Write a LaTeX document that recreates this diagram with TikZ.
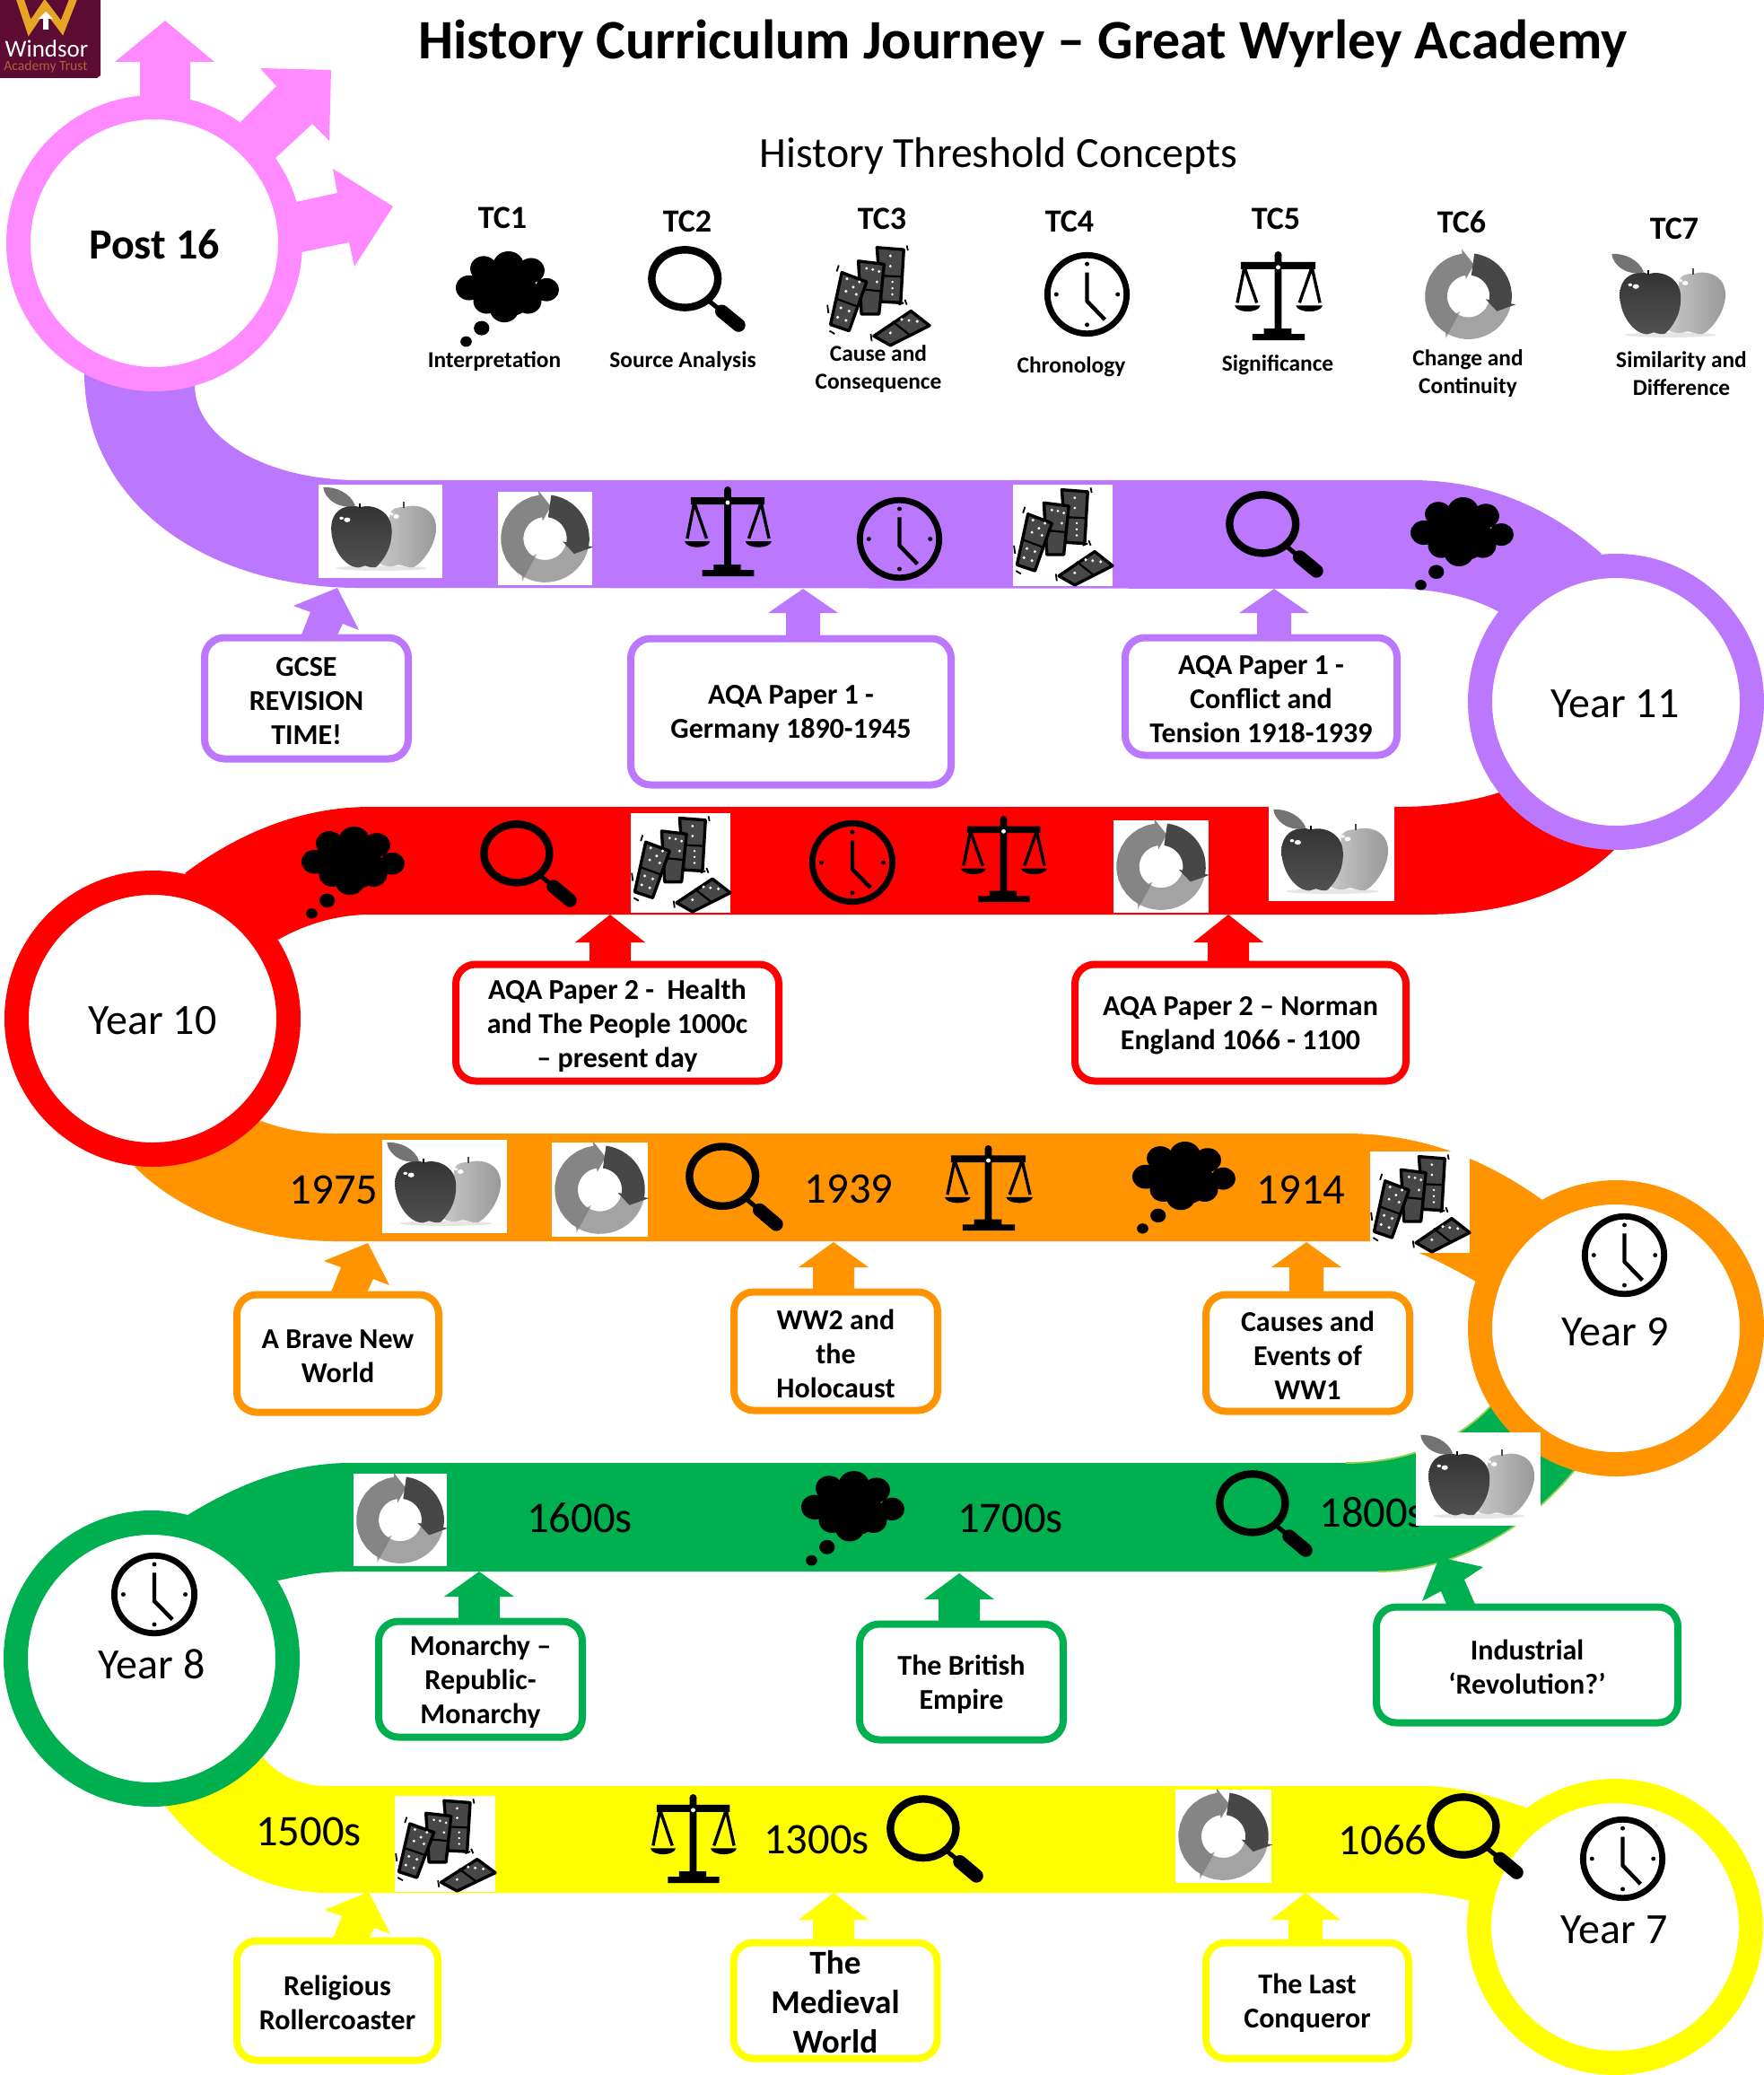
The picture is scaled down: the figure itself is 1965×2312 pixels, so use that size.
\documentclass[tikz,border=0pt]{standalone}
\usepackage{fontspec}
\setmainfont{Carlito}
\usetikzlibrary{calc}
\definecolor{cpink}{HTML}{FF8AFF}
\definecolor{cpurple}{HTML}{BB78FE}
\definecolor{cred}{HTML}{FF0000}
\definecolor{corange}{HTML}{FF9300}
\definecolor{cgreen}{HTML}{00B050}
\definecolor{cyellow}{HTML}{FFFF00}
\definecolor{cedge}{HTML}{92D050}
\definecolor{clogo}{HTML}{5C0C33}
\definecolor{cgold}{HTML}{E6A525}
\definecolor{ctrust}{HTML}{B0603A}
\tikzset{
  ring/.style={circle,draw=#1,fill=white,line width=13.5pt,minimum size=151.5pt,inner sep=0pt,outer sep=0pt},
  yearlabel/.style={font=\fontsize{24}{27}\selectfont,inner sep=0pt,yshift=-0.7pt},
  datelabel/.style={font=\fontsize{24.3}{27}\selectfont,inner sep=0pt,yshift=-0.5pt},
  tclabel/.style={font=\bfseries\fontsize{18}{21}\selectfont,inner sep=0pt,yshift=-0.5pt},
  tccaption/.style={font=\bfseries\fontsize{12.7}{15.4}\selectfont,align=center,inner sep=0pt,yshift=-0.7pt},
  topicbox/.style={draw=#1,fill=white,line width=4pt,rounded corners=11pt,inner sep=0pt,outer sep=0pt},
  topictext/.style={align=center,inner sep=0pt,font=\bfseries\fontsize{16}{19}\selectfont,yshift=-1.4pt}
}
% up arrow: colour, tip x, tip y, head half, head base y, shaft half, bottom y
\newcommand\uparr[7]{\fill[#1] (#2,#3) -- ({#2+#4},#5) -- ({#2+#6},#5) -- ({#2+#6},#7) -- ({#2-#6},#7) -- ({#2-#6},#5) -- ({#2-#4},#5) -- cycle;}
% tilted arrow
\newcommand\tiltarr[3]{\fill[#1] (#2,#3) -- ({#2+24},{#3+47}) -- ({#2+6},{#3+40}) -- ({#2-2},{#3+57}) -- ({#2-42},{#3+57}) -- ({#2-30},{#3+27}) -- ({#2-49},{#3+20}) -- cycle;}
% topic box: name, x1,y1,x2,y2, colour, text
\newcommand\tbox[7]{\node[topicbox=#6,minimum width={(#4-#2-6)*0.5pt},minimum height={(#5-#3-5)*0.5pt}] (#1) at ({(#2+#4)/2},{(#3+#5)/2}) {};
  \node[topictext] (#1t) at (#1) {#7};}
\newenvironment{iconscope}[4]{\begin{scope}[shift={({#1},{#2})},xscale={(#3-(#1))/100},yscale={(#4-(#2))/100}]}{\end{scope}}
\newcommand\cloudicon[4]{\begin{iconscope}{#1}{#2}{#3}{#4}
  \fill[black] (27,18) circle (13) (51,15) circle (15) (73,20) circle (13) (13,38) circle (13) (88,40) circle (12)
   (30,52) circle (13) (50,40) circle (28) (70,52) circle (13) (47,60) circle (14) (25,80) circle (7.5) (10,94) circle (5.5);
  \end{iconscope}}
\newcommand\magicon[4]{\begin{iconscope}{#1}{#2}{#3}{#4}
  \draw[black,line width=4.2pt] (37.5,38) circle (33.5);
  \draw[black,line width=2.5pt] (62,64) -- (74,75);
  \draw[black,line width=7.5pt,line cap=round] (75,76) -- (92,92);
  \end{iconscope}}
\newcommand\clockicon[4]{\begin{iconscope}{#1}{#2}{#3}{#4}
  \draw[black,line width=3.4pt] (50,50) circle (46.5);
  \fill[black] (50,14) circle (2.6) (50,86) circle (2.6) (14,50) circle (2.6) (86,50) circle (2.6);
  \draw[black,line width=2.2pt,line join=round] (50,24) -- (50,58) -- (71,80);
  \end{iconscope}}
\newcommand\scalesicon[4]{\begin{iconscope}{#1}{#2}{#3}{#4}
  \fill[black] (21,93) rectangle (80,100) (34,87) rectangle (65,93) (46,4) rectangle (54,90) (8,12) rectangle (92,20);
  \fill[black] (50,4) circle (4);
  \fill[white] (50,18) circle (2.5);
  \draw[black,line width=1.7pt] (4,58) -- (12,18) -- (26,58) (74,58) -- (88,18) -- (97,58);
  \fill[black] (1,61) -- (30,61) .. controls (28,70) and (3,70) .. (1,61) -- cycle;
  \fill[black] (70,61) -- (100,61) .. controls (98,70) and (72,70) .. (70,61) -- cycle;
  \end{iconscope}}
\newcommand\cycseg[3]{\fill[#3] plot[domain=#1:#2,samples=14] ({47*cos(\x)},{47*sin(\x)}) -- ({52*cos(#2)},{52*sin(#2)}) -- ({35*cos(#2+18)},{35*sin(#2+18)}) -- ({19*cos(#2)},{19*sin(#2)}) -- plot[domain=#2:#1,samples=14] ({23*cos(\x)},{23*sin(\x)}) -- cycle;}
\newcommand\cycleicon[4]{\fill[white] ({#1},{#2}) rectangle ({#3},{#4});
  \begin{iconscope}{#1}{#2}{#3}{#4}
  \begin{scope}[shift={(50,50)}]
  \cycseg{10}{118}{black!36}
  \cycseg{118}{262}{black!48}
  \cycseg{-82}{10}{black!72}
  \end{scope}
  \end{iconscope}}
\newcommand\appleicon[4]{\begin{iconscope}{#1}{#2}{#3}{#4}
  \fill[black!10] (52,98) ellipse (40 and 3);
  \shade[left color=black!22,right color=black!40] (72,25) .. controls (82,20) and (100,25) .. (100,50) .. controls (100,70) and (88,92) .. (80,97) .. controls (75,98) and (70,93) .. (66,94) .. controls (60,97) and (54,96) .. (50,92) -- (61,50) .. controls (56,30) and (62,24) .. (72,25) -- cycle;
  \draw[black!70,line width=1pt] (72,26) -- (72,18);
  \shade[top color=black!80,bottom color=black!68] (33,25) .. controls (25,20) and (8,25) .. (8,50) .. controls (8,75) and (20,95) .. (30,97) .. controls (33,98) and (36,95) .. (38,95) .. controls (42,97) and (46,98) .. (48,96) .. controls (56,85) and (62,70) .. (61,50) .. controls (60,30) and (45,20) .. (33,25) -- cycle;
  \draw[black,line width=1pt] (33,26) -- (33,20);
  \fill[black!55] (1,1) .. controls (12,0) and (25,8) .. (29,23) .. controls (15,28) and (2,15) .. (1,1) -- cycle;
  \fill[white] (17,38) circle (1.8) (22,40) circle (2.8) (61,33) circle (1.6) (65,36) circle (2.6);
  \end{iconscope}}
\newcommand\applebox[4]{\fill[white] ({#1},{#2}) rectangle ({#3},{#4}); \appleicon{#1+4}{#2+2}{#3-7}{#4-9}}
\newcommand\dom[4]{\filldraw[fill=black!72,draw=black,line width=1.7pt,line join=round] (#1) -- (#2) -- (#3) -- (#4) -- cycle;}
\newcommand\dominoicon[4]{\fill[white] ({#1},{#2}) rectangle ({#3},{#4});
  \begin{iconscope}{#1}{#2}{#3}{#4}
  \draw[black,line width=0.9pt] (78,3) -- (79,8) (76,55) -- (78,60) (3,85) -- (8,88) (1,60) -- (2,68) (10,28) -- (12,22) (43,88) -- (44,95) (70,60) -- (75,58);
  \dom{49,5}{75,7}{72,58}{53,57}
  \draw[black,line width=1.1pt] (51,32) -- (74,33);
  \fill[white] (62,13) circle (1.4) (62,23) circle (1.4) (64,38) circle (1.2) (64,44) circle (1.2) (64,50) circle (1.2);
  \dom{31,18}{56,21}{51,69}{34,69}
  \draw[black,line width=1.1pt] (33,45) -- (54,47);
  \fill[white] (39,25) circle (1.4) (45,26) circle (1.4) (51,28) circle (1.4) (49,38) circle (1.4);
  \dom{15,29}{39,38}{22,85}{4,79}
  \draw[black,line width=1.1pt] (9,54) -- (31,62);
  \fill[white] (20,35) circle (1.5) (32,38) circle (1.5) (26,43) circle (1.5) (19,47) circle (1.5) (29,50) circle (1.5)
    (14,63) circle (1.5) (22,66) circle (1.5) (11,72) circle (1.5) (19,75) circle (1.5);
  \dom{46,90}{82,66}{100,80}{62,99}
  \draw[black,line width=1.1pt] (64,76) -- (82,90);
  \fill[white] (62,87) circle (1.5) (73,74) circle (1.5) (80,75) circle (1.5) (88,76) circle (1.5);
  \end{iconscope}}
\begin{document}
\begin{tikzpicture}[x=0.5pt,y=-0.5pt]
\useasboundingbox (0,0) rectangle (1965,2312);
% ribbons
\fill[cpurple] (94,415) .. controls (94,560) and (230,655) .. (399,655) -- (1554,656) .. controls (1600,656) and (1640,665) .. (1671,682) -- (1785,617) .. controls (1720,560) and (1650,535) .. (1572,535) -- (399,535) .. controls (300,535) and (217,490) .. (217,429) -- cycle;
\fill[cred] (206,973) .. controls (270,925) and (340,899) .. (413,899) -- (1560,899) .. controls (1600,899) and (1640,893) .. (1671,883) -- (1801,945) .. controls (1760,985) and (1700,1019) .. (1585,1019) -- (413,1019) .. controls (375,1019) and (340,1030) .. (310,1047) -- cycle;
\fill[corange] (150,1300) .. controls (205,1355) and (290,1383) .. (375,1383) -- (1527,1383) .. controls (1565,1385) and (1605,1405) .. (1645,1428) -- (1719,1337) .. controls (1660,1295) and (1590,1263) .. (1500,1263) -- (375,1263) .. controls (340,1263) and (315,1258) .. (291,1249) -- cycle;
\fill[cgreen] (206,1690) .. controls (270,1650) and (330,1630) .. (390,1630) -- (1500,1630) .. controls (1570,1630) and (1625,1605) .. (1661,1567) -- (1755,1638) .. controls (1700,1705) and (1620,1751) .. (1536,1751) -- (390,1751) .. controls (350,1751) and (330,1757) .. (310,1761) -- cycle;
\draw[cedge,line width=0.9pt] (1500,1630) .. controls (1570,1630) and (1625,1605) .. (1661,1567);
\draw[cedge,line width=0.9pt] (1755,1638) .. controls (1700,1705) and (1620,1751) .. (1536,1751);
\fill[cyellow] (184,2012) .. controls (230,2070) and (290,2109) .. (367,2109) -- (1573,2109) .. controls (1600,2109) and (1620,2113) .. (1638,2118) -- (1701,2014) .. controls (1660,2000) and (1630,1992) .. (1593,1990) -- (364,1990) .. controls (335,1990) and (310,1978) .. (293,1958) -- cycle;
% post-16 arrows
\fill[cpink] (184,23) -- (239,69) -- (212,69) -- (212,120) -- (156,120) -- (156,69) -- (128,69) -- cycle;
\fill[cpink] (369,78) -- (367,157) -- (348,138) -- (307,176) -- (268,136) -- (308,96) -- (290,76) -- cycle;
\fill[cpink] (438,230) -- (395,297) -- (389,270) -- (336,281) -- (330,225) -- (376,215) -- (371,188) -- cycle;
% rings
\node[ring=cpink] (r16) at (172,271) {};
\node[ring=cpurple] (r11) at (1801,782) {};
\node[ring=cred] (r10) at (170,1135) {};
\node[ring=corange] (r9) at (1801,1480) {};
\node[ring=cgreen] (r8) at (169,1848) {};
\node[ring=cyellow] (r7) at (1800,2147) {};
% logo
\fill[clogo] (0,0) -- (112,0) -- (112,84) -- (108,87) -- (0,87) -- cycle;
\draw[cgold,line width=4.2pt,line join=miter] (22,-2) -- (33,31) -- (50,6) -- (69,31) -- (82,-2);
\fill[white] (51,13) -- (59,21) -- (54,21) -- (54,33) -- (48,33) -- (48,21) -- (43,21) -- cycle;
\node[inner sep=0pt,text=white,font=\fontsize{13.5}{15}\selectfont] (logow) at (52,54) {Windsor};
\node[inner sep=0pt,text=ctrust,font=\fontsize{7.8}{9}\selectfont] (logoa) at (51,74) {Academy Trust};
% title
\node[inner sep=0pt,font=\bfseries\fontsize{31}{35}\selectfont] (title) at (1140,49) {History Curriculum Journey – Great Wyrley Academy};
\node[inner sep=0pt,font=\fontsize{23.9}{27}\selectfont] (subtitle) at (1113,174) {History Threshold Concepts};
% TC row
\node[tclabel] (tc1) at (560,242) {TC1};
\node[tclabel] (tc2) at (766,246) {TC2};
\node[tclabel] (tc3) at (983,243) {TC3};
\node[tclabel] (tc4) at (1192,246) {TC4};
\node[tclabel] (tc5) at (1422,243) {TC5};
\node[tclabel] (tc6) at (1629,246) {TC6};
\node[tclabel] (tc7) at (1866,254) {TC7};
\cloudicon{508}{280}{623}{387}
\magicon{722}{274}{832}{370}
\dominoicon{921}{270}{1036}{386}
\clockicon{1164}{281}{1259}{375}
\scalesicon{1375}{280}{1474}{379}
\cycleicon{1585}{279}{1688}{381}
\appleicon{1795}{282}{1923}{375}
\node[tccaption] (cap1) at (551,401) {Interpretation};
\node[tccaption] (cap2) at (761,401) {Source Analysis};
\node[tccaption] (cap3) at (979,410) {Cause and\\Consequence};
\node[tccaption] (cap4) at (1194,407) {Chronology};
\node[tccaption] (cap5) at (1424,405) {Significance};
\node[tccaption] (cap6) at (1636,415) {Change and\\Continuity};
\node[tccaption] (cap7) at (1874,415) {Similarity and\\Difference};
% ring labels
\node[yearlabel,font=\bfseries\fontsize{24}{27}\selectfont] (t16) at (172,271) {Post 16};
\node[yearlabel] (t11) at (1800,783) {Year 11};
\node[yearlabel] (t10) at (170,1136) {Year 10};
\node[yearlabel] (t9) at (1800,1483) {Year 9};
\node[yearlabel] (t8) at (169,1853) {Year 8};
\node[yearlabel] (t7) at (1799,2149) {Year 7};
\clockicon{1763}{1352}{1858}{1445}
\clockicon{124}{1730}{220}{1823}
\clockicon{1761}{2024}{1856}{2118}
% purple row
\applebox{355}{540}{493}{644}
\cycleicon{555}{548}{660}{652}
\scalesicon{762}{542}{860}{642}
\clockicon{955}{554}{1050}{647}
\dominoicon{1129}{540}{1240}{653}
\magicon{1366}{547}{1476}{644}
\cloudicon{1572}{554}{1687}{658}
\tiltarr{cpurple}{376}{655}
\uparr{cpurple}{895}{656}{39}{683}{19}{712}
\uparr{cpurple}{1420}{656}{39}{683}{19}{712}
\tbox{b1}{225}{708}{458}{848}{cpurple}{GCSE\\REVISION\\TIME!}
\tbox{b2}{700}{709}{1063}{877}{cpurple}{AQA Paper 1 -\\Germany 1890-1945}
\tbox{b3}{1251}{708}{1560}{844}{cpurple}{AQA Paper 1 -\\Conflict and\\Tension 1918-1939}
% red row
\cloudicon{336}{921}{451}{1024}
\magicon{535}{914}{644}{1011}
\dominoicon{703}{906}{814}{1017}
\clockicon{902}{914}{998}{1008}
\scalesicon{1070}{909}{1167}{1005}
\cycleicon{1241}{914}{1347}{1017}
\applebox{1414}{899}{1554}{1004}
\uparr{cred}{680}{1019}{39}{1050}{23}{1076}
\uparr{cred}{1369}{1019}{39}{1050}{23}{1076}
\tbox{b4}{505}{1072}{871}{1207}{cred}{AQA Paper 2 -\ \ Health\\and The People 1000c\\– present day}
\tbox{b5}{1195}{1072}{1570}{1207}{cred}{AQA Paper 2 – Norman\\England 1066 - 1100}
% orange row
\node[datelabel] (d1975) at (372,1325) {1975};
\node[datelabel] (d1939) at (946,1324) {1939};
\node[datelabel] (d1914) at (1450,1325) {1914};
\applebox{426}{1270}{565}{1374}
\cycleicon{615}{1273}{722}{1378}
\magicon{764}{1273}{874}{1372}
\scalesicon{1052}{1276}{1151}{1371}
\cloudicon{1262}{1272}{1377}{1375}
\dominoicon{1527}{1283}{1638}{1396}
\tiltarr{corange}{410}{1385}
\uparr{corange}{929}{1384}{39}{1412}{23}{1443}
\uparr{corange}{1456}{1384}{39}{1412}{19}{1443}
\tbox{b6}{261}{1440}{492}{1576}{corange}{A Brave New\\World}
\tbox{b7}{815}{1437}{1048}{1574}{corange}{WW2 and\\the\\Holocaust}
\tbox{b8}{1341}{1440}{1574}{1575}{corange}{Causes and\\Events of\\WW1}
% green row
\node[datelabel] (d1600) at (646,1690) {1600s};
\node[datelabel] (d1700) at (1126,1691) {1700s};
\node[datelabel,anchor=west] (d1800) at (1470,1684) {1800s};
\cycleicon{394}{1642}{498}{1745}
\cloudicon{893}{1639}{1008}{1745}
\magicon{1355}{1638}{1464}{1735}
\applebox{1578}{1596}{1717}{1700}
\uparr{cgreen}{534}{1751}{39}{1779}{23}{1808}
\uparr{cgreen}{1069}{1753}{39}{1782}{23}{1811}
\fill[cgreen] (1604,1735) -- (1653,1746) -- (1632,1760) -- (1646,1792) -- (1614,1792) -- (1606,1773) -- (1585,1784) -- cycle;
\tbox{b9}{419}{1804}{652}{1938}{cgreen}{Monarchy –\\Republic-\\Monarchy}
\tbox{b10}{955}{1807}{1188}{1941}{cgreen}{The British\\Empire}
\tbox{b11}{1531}{1788}{1873}{1922}{cgreen}{Industrial\\‘Revolution?’}
% yellow row
\node[datelabel] (d1500) at (344,2040) {1500s};
\node[datelabel] (d1300) at (910,2049) {1300s};
\node[datelabel] (d1066) at (1541,2049) {1066};
\dominoicon{440}{2001}{552}{2108}
\scalesicon{724}{1999}{821}{2098}
\magicon{988}{2000}{1097}{2098}
\cycleicon{1310}{1994}{1417}{2098}
\magicon{1590}{1998}{1699}{2094}
\tiltarr{cyellow}{411}{2108}
\uparr{cyellow}{929}{2109}{39}{2139}{23}{2166}
\uparr{cyellow}{1455}{2109}{39}{2139}{19}{2166}
\tbox{b12}{261}{2160}{491}{2298}{cyellow}{Religious\\Rollercoaster}
\node[topicbox=cyellow,minimum width={(1048-815-6)*0.5pt},minimum height={(2296-2162-5)*0.5pt}] (b13) at (931,2229) {};
\node[topictext,font=\bfseries\fontsize{18.6}{22}\selectfont,yshift=0.5pt] (b13t) at (b13) {The\\Medieval\\World};
\tbox{b14}{1341}{2162}{1573}{2296}{cyellow}{The Last\\Conqueror}
\end{tikzpicture}
\end{document}
